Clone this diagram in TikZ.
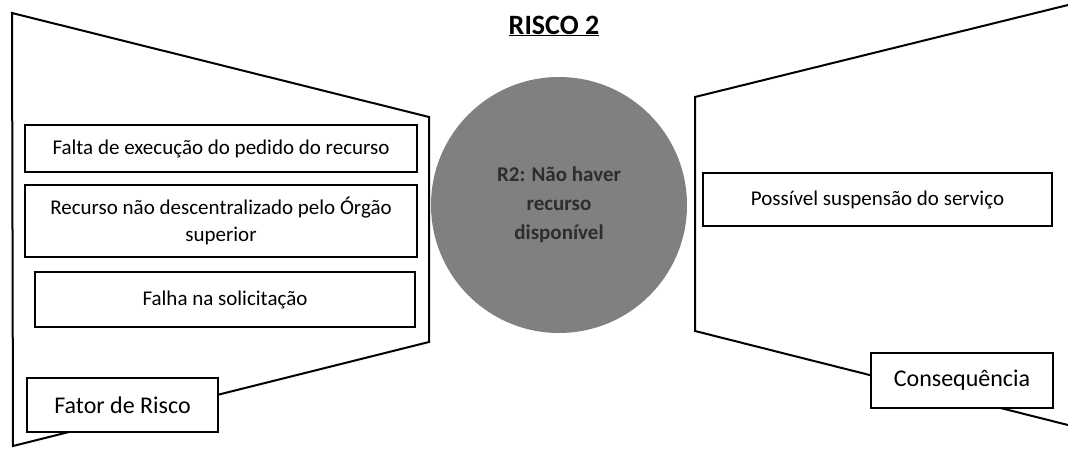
\documentclass[tikz,border=0pt]{standalone}
\usepackage{fontspec}
\setmainfont{Carlito}
\usetikzlibrary{calc}
\definecolor{riscocinza}{RGB}{128,128,128}
\definecolor{riscotexto}{RGB}{45,45,45}

\begin{document}
\begin{tikzpicture}[x=1pt,y=-1pt,
  causa/.style={draw, line width=1.8pt, fill=white, inner sep=0pt, align=center, font=\fontsize{21}{27}\selectfont},
  rotulo/.style={causa, font=\fontsize{24}{29}\selectfont}]
\useasboundingbox (0,0) rectangle (1068,449);

\node[font=\bfseries\fontsize{28}{34}\selectfont] (titulo) at (554,26) {\underline{RISCO 2}};

\draw[line width=2pt] (12,13) -- (429,117) -- (429,342) -- (13,446) -- cycle;
\draw[line width=2pt] (1068,5) -- (695,97) -- (695,331) -- (1068,425);

\node[causa, minimum width=392pt, minimum height=47pt] (Falta1) at (221,148.5) {Falta de execução do pedido do recurso};
\node[causa, minimum width=392pt, minimum height=72pt] (Recurso1) at (221,221) {Recurso não descentralizado pelo Órgão\\superior};
\node[causa, minimum width=380pt, minimum height=55pt] (Falha1) at (225,299.5) {Falha na solicitação};
\node[rotulo, minimum width=191pt, minimum height=54pt] (Fator) at (122.5,405) {Fator de Risco};

\node[circle, fill=riscocinza, minimum size=256pt, align=center, text=riscotexto,
  font=\bfseries\fontsize{21}{29}\selectfont] (R2) at (559,205) {R2: Não haver\\recurso\\disponível};

\node[causa, minimum width=349pt, minimum height=53pt] (Possivel1) at (877.5,199.5) {Possível suspensão do serviço};
\node[rotulo, minimum width=182pt, minimum height=55pt] (Conseq) at (962,380.5) {Consequência};
\end{tikzpicture}
\end{document}
